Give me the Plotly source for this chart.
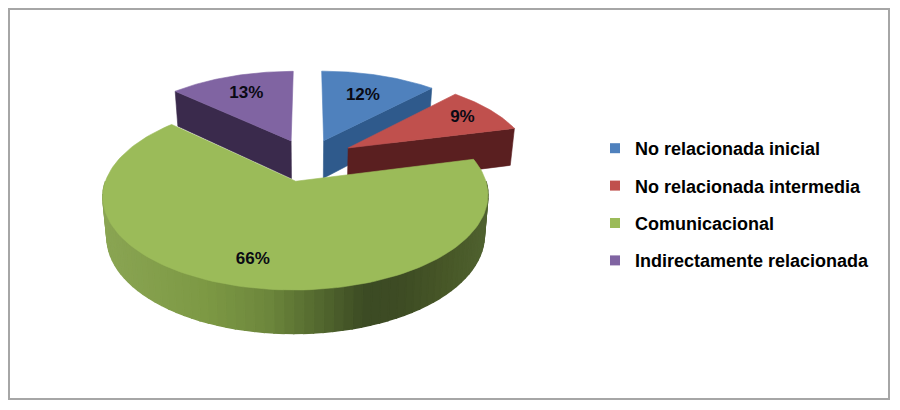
import math
import plotly.graph_objects as go

labels = ["No relacionada inicial", "No relacionada intermedia", "Comunicacional", "Indirectamente relacionada"]
values = [12, 9, 66, 13]
text_labels = ["12%", "9%", "66%", "13%"]
top_colors = ["#4f81bd", "#c0504d", "#9bbb59", "#8064a2"]
face_colors = ["#2f5a8c", "#5a1f20", "#4f6130", "#3a2a4c"]
pulls = [0.24, 0.26, 0.26, 0.24]
label_radii = [0.68, 0.80, 0.77, 0.72]
# rim shading of the green slice, left to right across the chart
rim_x = [0.0, 0.25, 0.42, 0.55, 0.68, 0.78, 0.90, 1.0]
rim_rgb = [(138, 165, 83), (126, 154, 69), (110, 136, 61), (86, 107, 48),
           (60, 75, 36), (62, 76, 36), (72, 88, 40), (80, 98, 48)]

CX, CY, RX, RY, PERSP = 308, 159, 183, 85, 0.15
W, H = 900, 410


def project(X, Y, z=0.0):
    w = 1 + PERSP * Y
    x = RX * X / w
    y = -RY * Y / w + z * (38.5 - 4.0 * Y)
    return CX + x * (1 - 0.02 * z), CY + y


total = sum(values)
slices = []
start = 0.0
for v, pull in zip(values, pulls):
    end = start + v / total * 2 * math.pi
    mid = (start + end) / 2
    slices.append((start, end, pull * math.sin(mid), pull * math.cos(mid), mid))
    start = end


def rim_point(s, t, z=0.0, r=1.0):
    return project(s[2] + r * math.sin(t), s[3] + r * math.cos(t), z)


def add_poly(fig, pts, color, lw=0.6):
    xs = [p[0] for p in pts] + [pts[0][0]]
    ys = [p[1] for p in pts] + [pts[0][1]]
    fig.add_trace(go.Scatter(x=xs, y=ys, mode="lines", fill="toself", fillcolor=color,
                             line=dict(color=color, width=lw), hoverinfo="skip", showlegend=False))


def arc(s, n=70, z=0.0):
    return [rim_point(s, s[0] + (s[1] - s[0]) * i / n, z) for i in range(n + 1)]


def cut_face(i, t):
    s = slices[i]
    add_poly(fig, [rim_point(s, t, 0, 0), rim_point(s, t), rim_point(s, t, 1), rim_point(s, t, 1, 0)], face_colors[i])


def rim_color(f):
    for j in range(len(rim_x) - 1):
        if f <= rim_x[j + 1]:
            a = (f - rim_x[j]) / (rim_x[j + 1] - rim_x[j])
            c = [rim_rgb[j][k] + a * (rim_rgb[j + 1][k] - rim_rgb[j][k]) for k in range(3)]
            return "rgb(%d,%d,%d)" % tuple(c)
    return "rgb(%d,%d,%d)" % rim_rgb[-1]


fig = go.Figure()

# back to front: blue, purple, red, green
cut_face(0, slices[0][1])
add_poly(fig, [rim_point(slices[0], 0, 0, 0)] + arc(slices[0]), top_colors[0])
cut_face(3, slices[3][0])
add_poly(fig, [rim_point(slices[3], 0, 0, 0)] + arc(slices[3]), top_colors[3])
cut_face(1, slices[1][1])
add_poly(fig, [rim_point(slices[1], 0, 0, 0)] + arc(slices[1]), top_colors[1])

g = slices[2]
steps = 70
lo = math.pi * 0.5
hi = math.pi * 1.5
x_left = rim_point(g, hi)[0]
x_right = rim_point(g, lo)[0]
for i in range(steps):
    t0 = lo + (hi - lo) * i / steps
    t1 = lo + (hi - lo) * (i + 1) / steps
    p0, p1 = rim_point(g, t0), rim_point(g, t1)
    q0, q1 = rim_point(g, t0, 1), rim_point(g, t1, 1)
    f = ((p0[0] + p1[0]) / 2 - x_left) / (x_right - x_left)
    add_poly(fig, [p0, p1, q1, q0], rim_color(max(0, min(1, f))), lw=1.5)
add_poly(fig, [rim_point(g, 0, 0, 0)] + arc(g, 140), top_colors[2])

# data labels
lx, ly = [], []
for s, r in zip(slices, label_radii):
    px, py = rim_point(s, s[4], 0, r)
    lx.append(px)
    ly.append(py + 1)
fig.add_trace(go.Scatter(x=lx, y=ly, mode="text", text=text_labels,
                         textfont=dict(family="Liberation Sans", size=17, color="#0a0a14", weight="bold"),
                         hoverinfo="skip", showlegend=False))

# legend
for name, color in zip(labels, top_colors):
    fig.add_trace(go.Scatter(x=[None], y=[None], mode="markers", name=name, legendgroup=name,
                             marker=dict(symbol="square", size=10, color=color)))

fig.update_layout(
    width=W, height=H, margin=dict(l=0, r=0, t=0, b=0),
    paper_bgcolor="white", plot_bgcolor="white",
    xaxis=dict(range=[0, W], visible=False, fixedrange=True),
    yaxis=dict(range=[H, 0], visible=False, fixedrange=True),
    legend=dict(x=595 / W, y=1 - 204.5 / H, xanchor="left", yanchor="middle", yref="paper",
                tracegroupgap=11, bgcolor="rgba(0,0,0,0)",
                font=dict(family="Liberation Sans", size=18, color="#000000", weight="bold")),
    shapes=[dict(type="rect", xref="x", yref="y", x0=9, y0=9, x1=889, y1=399,
                 line=dict(color="#a6a6a6", width=2))],
)
fig.write_html("out.html", config=dict(displayModeBar=False),
               post_script="document.body.style.margin='0';document.body.style.overflow='hidden';")
